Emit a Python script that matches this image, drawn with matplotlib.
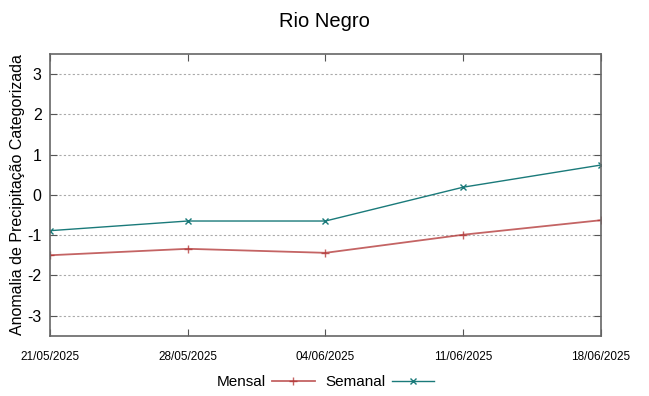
import numpy as np
import matplotlib
matplotlib.use("Agg")
import matplotlib.pyplot as plt

# ── Data ────────────────────────────────────────────────────────
dates = ["21/05/2025", "28/05/2025", "04/06/2025", "11/06/2025", "18/06/2025"]
mensal = [-1.50, -1.34, -1.44, -0.99, -0.63]
semanal = [-0.89, -0.65, -0.65, 0.19, 0.74]

plt.rcParams['font.family'] = ['Liberation Sans', 'DejaVu Sans']
plt.rcParams['axes.unicode_minus'] = False

fig = plt.figure(figsize=(6.49, 3.96), dpi=100)
ax = fig.add_axes([0.077, 0.152, 0.849, 0.712])

x = np.arange(len(dates))
ax.plot(x, mensal, color="#b03030", alpha=0.75, lw=1.3, marker="+", ms=6, mew=1.0, label="Mensal")
ax.plot(x, semanal, color="#1a7a7a", lw=1.0, marker="x", ms=4.5, mew=1.0, label="Semanal")

ax.set_xlim(0, len(dates) - 1)
ax.set_ylim(-3.5, 3.5)
ax.set_xticks(x)
ax.set_xticklabels(dates, fontsize=8.5)
ax.set_yticks([-3, -2, -1, 0, 1, 2, 3])
ax.tick_params(axis='y', labelsize=11.5, pad=6)
ax.tick_params(direction='in', top=True, right=True, length=5, color="#555555")
ax.tick_params(axis='x', pad=11)

ax.yaxis.grid(True, linestyle=(0, (2, 2)), color="#aaaaaa", lw=0.8)
for s in ax.spines.values():
    s.set_color("#666666")
    s.set_linewidth(1.2)

ax.set_ylabel("Anomalia de Precipitação Categorizada", fontsize=11.5, labelpad=2)
fig.suptitle("Rio Negro", fontsize=14.5, y=0.97)

ax.legend(loc='center', bbox_to_anchor=(0.5, -0.165), ncol=2, frameon=False,
          markerfirst=False, fontsize=11, handlelength=2.8, columnspacing=0.7,
          handletextpad=0.4)

fig.savefig("out.png", dpi=100)
